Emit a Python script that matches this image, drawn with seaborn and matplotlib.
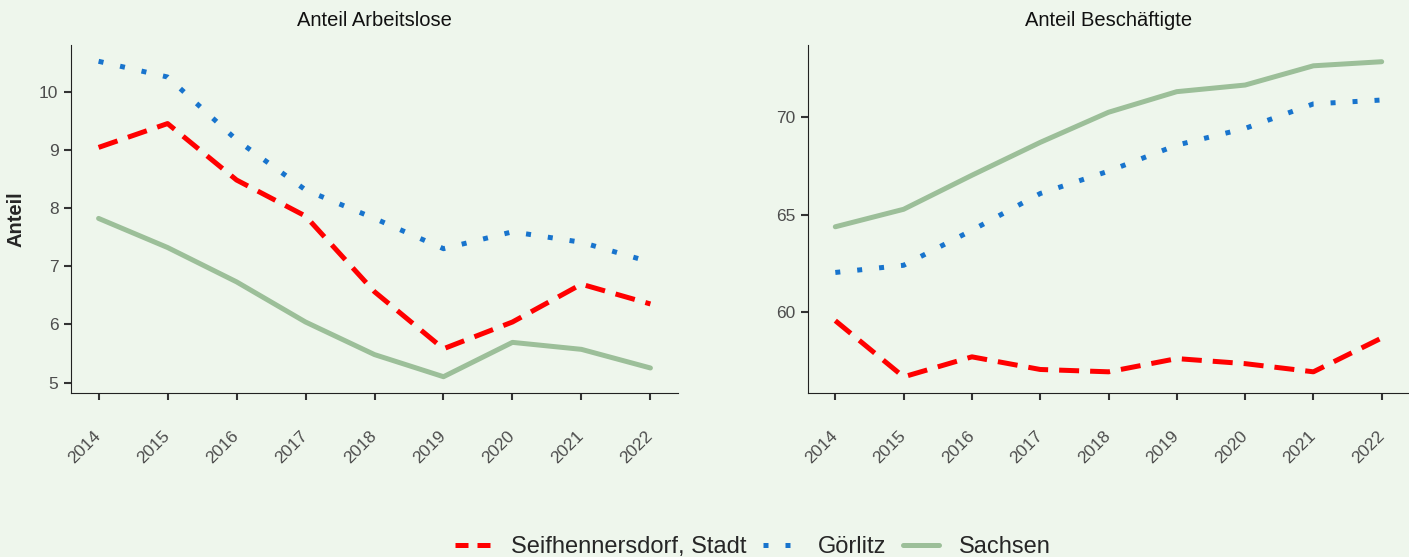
import matplotlib
matplotlib.use("Agg")
import matplotlib.pyplot as plt
from matplotlib.lines import Line2D
import seaborn as sns
import pandas as pd

years = [2014, 2015, 2016, 2017, 2018, 2019, 2020, 2021, 2022]
regions = ["Seifhennersdorf, Stadt", "Görlitz", "Sachsen"]

# Anteil Arbeitslose
alo_seif = [9.04, 9.45, 8.48, 7.86, 6.56, 5.58, 6.04, 6.69, 6.35]
alo_goer = [10.52, 10.25, 9.17, 8.31, 7.82, 7.30, 7.59, 7.41, 7.07]
alo_sachsen = [7.82, 7.32, 6.73, 6.04, 5.48, 5.10, 5.69, 5.57, 5.25]

# Anteil Beschäftigte
bes_seif = [59.54, 56.65, 57.68, 57.03, 56.91, 57.59, 57.33, 56.91, 58.65]
bes_goer = [62.02, 62.39, 64.19, 66.08, 67.23, 68.57, 69.43, 70.69, 70.89]
bes_sachsen = [64.37, 65.27, 67.02, 68.71, 70.26, 71.32, 71.66, 72.65, 72.86]

panel_titles = ["Anteil Arbeitslose", "Anteil Beschäftigte"]

bg = "#EEF6EC"
palette = {"Seifhennersdorf, Stadt": "#FF0000", "Görlitz": "#1874CD", "Sachsen": "#9CBF99"}
dashes = {"Seifhennersdorf, Stadt": (4, 2.2), "Görlitz": (1, 3.4), "Sachsen": ""}

def long_df(series):
    rows = []
    for name, vals in zip(regions, series):
        for y, v in zip(years, vals):
            rows.append({"Jahr": y, "Anteil": v, "Region": name})
    return pd.DataFrame(rows)

df_alo = long_df([alo_seif, alo_goer, alo_sachsen])
df_bes = long_df([bes_seif, bes_goer, bes_sachsen])

sns.set_style("ticks")
plt.rcParams["font.family"] = ["Liberation Sans", "DejaVu Sans"]

fig = plt.figure(figsize=(14.09, 5.57), dpi=100, facecolor=bg)
ax1 = fig.add_axes([71 / 1409, 1 - 393 / 557, 607 / 1409, 348 / 557])
ax2 = fig.add_axes([808 / 1409, 1 - 393 / 557, 601 / 1409, 348 / 557])

for ax, df, title in [(ax1, df_alo, panel_titles[0]), (ax2, df_bes, panel_titles[1])]:
    ax.set_facecolor(bg)
    sns.lineplot(data=df, x="Jahr", y="Anteil", hue="Region", style="Region",
                 palette=palette, dashes=dashes, linewidth=3.6, ax=ax,
                 legend=False, hue_order=regions, style_order=regions)
    ax.set_xlim(2013.6, 2022.4)
    ax.set_xticks(years)
    ax.set_xticklabels([str(y) for y in years], rotation=45, ha="right",
                       va="center", rotation_mode="anchor")
    ax.tick_params(axis="x", bottom=True, pad=24, length=5, width=1.5, color="#333333",
                   labelsize=12.5, labelcolor="#4D4D4D")
    ax.tick_params(axis="y", left=True, pad=4, length=5, width=1.5, color="#333333",
                   labelsize=12.5, labelcolor="#4D4D4D")
    ax.spines["top"].set_visible(False)
    ax.spines["right"].set_visible(False)
    ax.spines["left"].set_color("#222222")
    ax.spines["bottom"].set_color("#222222")
    ax.set_title(title, fontsize=14.5, color="#111111", pad=14)
    ax.set_xlabel("")
    ax.set_ylabel("")
    ax.grid(False)

ax1.set_ylim(4.82, 10.80)
ax1.set_yticks([5, 6, 7, 8, 9, 10])
ax1.set_ylabel("Anteil", fontsize=14.5, fontweight="bold", labelpad=10)

ax2.set_ylim(55.82, 73.72)
ax2.set_yticks([60, 65, 70])

legend_dashes = {"Seifhennersdorf, Stadt": (2.6, 1.8), "Görlitz": (1, 3.4)}
handles = [
    Line2D([0], [0], color=palette[regions[0]], linewidth=3.6, dashes=legend_dashes[regions[0]]),
    Line2D([0], [0], color=palette[regions[1]], linewidth=3.6, dashes=legend_dashes[regions[1]]),
    Line2D([0], [0], color=palette[regions[2]], linewidth=3.6),
]
fig.legend(handles, regions, loc="center", bbox_to_anchor=(753 / 1409, 1 - 547 / 557),
           ncol=3, frameon=False, fontsize=17, handlelength=1.5,
           handletextpad=0.85, columnspacing=0.7)

fig.savefig("out.png", dpi=100, facecolor=bg)
